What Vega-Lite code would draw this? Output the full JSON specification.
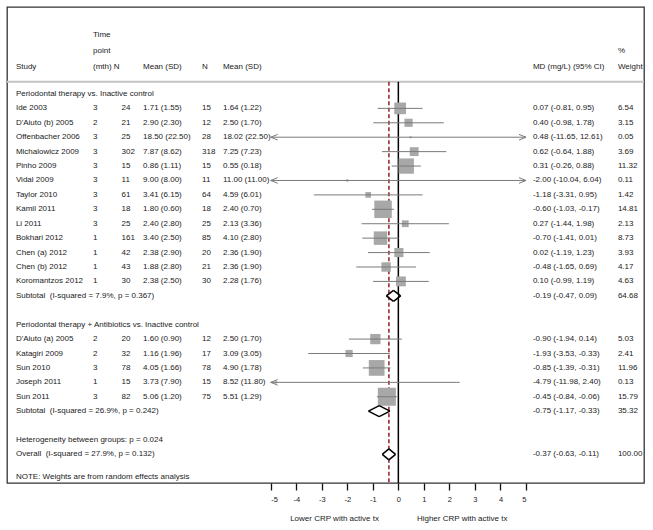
{
  "$schema": "https://vega.github.io/schema/vega-lite/v6.json",
  "width": 637,
  "height": 476,
  "autosize": {"type": "none"},
  "padding": {"left": 7, "top": 7, "right": 9, "bottom": 47},
  "background": "white",
  "config": {
    "view": {"stroke": "#333333", "strokeWidth": 1.3},
    "text": {"font": "Liberation Sans", "fontSize": 8, "color": "#222222"}
  },
  "datasets": {
    "rows": [
      {"kind": "header", "row": -4.09, "mth": "Time"},
      {"kind": "header", "row": -3.0, "mth": "point", "wt": "%"},
      {"kind": "header", "row": -1.9, "study": "Study", "mth": "(mth)", "n1h": "N", "m1": "Mean (SD)", "n2": "N", "m2": "Mean (SD)", "ci": "MD (mg/L) (95% CI)", "wt": "Weight"},
      {"kind": "group", "row": 0, "study": "Periodontal therapy vs. Inactive control"},
      {"kind": "study", "row": 1, "study": "Ide 2003", "mth": 3, "n1": 24, "m1": "1.71 (1.55)", "n2": 15, "m2": "1.64 (1.22)", "md": 0.07, "lo": -0.81, "hi": 0.95, "w": 6.54, "ci": "0.07 (-0.81, 0.95)", "wt": "6.54"},
      {"kind": "study", "row": 2, "study": "D'Aiuto (b) 2005", "mth": 2, "n1": 21, "m1": "2.90 (2.30)", "n2": 12, "m2": "2.50 (1.70)", "md": 0.40, "lo": -0.98, "hi": 1.78, "w": 3.15, "ci": "0.40 (-0.98, 1.78)", "wt": "3.15"},
      {"kind": "study", "row": 3, "study": "Offenbacher 2006", "mth": 3, "n1": 25, "m1": "18.50 (22.50)", "n2": 28, "m2": "18.02 (22.50)", "md": 0.48, "lo": -11.65, "hi": 12.61, "w": 0.05, "ci": "0.48 (-11.65, 12.61)", "wt": "0.05"},
      {"kind": "study", "row": 4, "study": "Michalowicz 2009", "mth": 3, "n1": 302, "m1": "7.87 (8.62)", "n2": 318, "m2": "7.25 (7.23)", "md": 0.62, "lo": -0.64, "hi": 1.88, "w": 3.69, "ci": "0.62 (-0.64, 1.88)", "wt": "3.69"},
      {"kind": "study", "row": 5, "study": "Pinho 2009", "mth": 3, "n1": 15, "m1": "0.86 (1.11)", "n2": 15, "m2": "0.55 (0.18)", "md": 0.31, "lo": -0.26, "hi": 0.88, "w": 11.32, "ci": "0.31 (-0.26, 0.88)", "wt": "11.32"},
      {"kind": "study", "row": 6, "study": "Vidal 2009", "mth": 3, "n1": 11, "m1": "9.00 (8.00)", "n2": 11, "m2": "11.00 (11.00)", "md": -2.00, "lo": -10.04, "hi": 6.04, "w": 0.11, "ci": "-2.00 (-10.04, 6.04)", "wt": "0.11"},
      {"kind": "study", "row": 7, "study": "Taylor 2010", "mth": 3, "n1": 61, "m1": "3.41 (6.15)", "n2": 64, "m2": "4.59 (6.01)", "md": -1.18, "lo": -3.31, "hi": 0.95, "w": 1.42, "ci": "-1.18 (-3.31, 0.95)", "wt": "1.42"},
      {"kind": "study", "row": 8, "study": "Kamil 2011", "mth": 3, "n1": 18, "m1": "1.80 (0.60)", "n2": 18, "m2": "2.40 (0.70)", "md": -0.60, "lo": -1.03, "hi": -0.17, "w": 14.81, "ci": "-0.60 (-1.03, -0.17)", "wt": "14.81"},
      {"kind": "study", "row": 9, "study": "Li 2011", "mth": 3, "n1": 25, "m1": "2.40 (2.80)", "n2": 25, "m2": "2.13 (3.36)", "md": 0.27, "lo": -1.44, "hi": 1.98, "w": 2.13, "ci": "0.27 (-1.44, 1.98)", "wt": "2.13"},
      {"kind": "study", "row": 10, "study": "Bokhari 2012", "mth": 1, "n1": 161, "m1": "3.40 (2.50)", "n2": 85, "m2": "4.10 (2.80)", "md": -0.70, "lo": -1.41, "hi": 0.01, "w": 8.73, "ci": "-0.70 (-1.41, 0.01)", "wt": "8.73"},
      {"kind": "study", "row": 11, "study": "Chen (a) 2012", "mth": 1, "n1": 42, "m1": "2.38 (2.90)", "n2": 20, "m2": "2.36 (1.90)", "md": 0.02, "lo": -1.19, "hi": 1.23, "w": 3.93, "ci": "0.02 (-1.19, 1.23)", "wt": "3.93"},
      {"kind": "study", "row": 12, "study": "Chen (b) 2012", "mth": 1, "n1": 43, "m1": "1.88 (2.80)", "n2": 21, "m2": "2.36 (1.90)", "md": -0.48, "lo": -1.65, "hi": 0.69, "w": 4.17, "ci": "-0.48 (-1.65, 0.69)", "wt": "4.17"},
      {"kind": "study", "row": 13, "study": "Koromantzos 2012", "mth": 1, "n1": 30, "m1": "2.38 (2.50)", "n2": 30, "m2": "2.28 (1.76)", "md": 0.10, "lo": -0.99, "hi": 1.19, "w": 4.63, "ci": "0.10 (-0.99, 1.19)", "wt": "4.63"},
      {"kind": "summary", "row": 14, "study": "Subtotal\u00a0 (I-squared = 7.9%, p = 0.367)", "md": -0.19, "lo": -0.47, "hi": 0.09, "ci": "-0.19 (-0.47, 0.09)", "wt": "64.68"},
      {"kind": "group", "row": 16, "study": "Periodontal therapy + Antibiotics vs. Inactive control"},
      {"kind": "study", "row": 17, "study": "D'Aiuto (a) 2005", "mth": 2, "n1": 20, "m1": "1.60 (0.90)", "n2": 12, "m2": "2.50 (1.70)", "md": -0.90, "lo": -1.94, "hi": 0.14, "w": 5.03, "ci": "-0.90 (-1.94, 0.14)", "wt": "5.03"},
      {"kind": "study", "row": 18, "study": "Katagiri 2009", "mth": 2, "n1": 32, "m1": "1.16 (1.96)", "n2": 17, "m2": "3.09 (3.05)", "md": -1.93, "lo": -3.53, "hi": -0.33, "w": 2.41, "ci": "-1.93 (-3.53, -0.33)", "wt": "2.41"},
      {"kind": "study", "row": 19, "study": "Sun 2010", "mth": 3, "n1": 78, "m1": "4.05 (1.66)", "n2": 78, "m2": "4.90 (1.78)", "md": -0.85, "lo": -1.39, "hi": -0.31, "w": 11.96, "ci": "-0.85 (-1.39, -0.31)", "wt": "11.96"},
      {"kind": "study", "row": 20, "study": "Joseph 2011", "mth": 1, "n1": 15, "m1": "3.73 (7.90)", "n2": 15, "m2": "8.52 (11.80)", "md": -4.79, "lo": -11.98, "hi": 2.40, "w": 0.13, "ci": "-4.79 (-11.98, 2.40)", "wt": "0.13"},
      {"kind": "study", "row": 21, "study": "Sun 2011", "mth": 3, "n1": 82, "m1": "5.06 (1.20)", "n2": 75, "m2": "5.51 (1.29)", "md": -0.45, "lo": -0.84, "hi": -0.06, "w": 15.79, "ci": "-0.45 (-0.84, -0.06)", "wt": "15.79"},
      {"kind": "summary", "row": 22, "study": "Subtotal\u00a0 (I-squared = 26.9%, p = 0.242)", "md": -0.75, "lo": -1.17, "hi": -0.33, "ci": "-0.75 (-1.17, -0.33)", "wt": "35.32"},
      {"kind": "note", "row": 24, "study": "Heterogeneity between groups: p = 0.024"},
      {"kind": "overall", "row": 25, "study": "Overall\u00a0 (I-squared = 27.9%, p = 0.132)", "md": -0.37, "lo": -0.63, "hi": -0.11, "ci": "-0.37 (-0.63, -0.11)", "wt": "100.00"},
      {"kind": "note", "row": 26.54, "study": "NOTE: Weights are from random effects analysis"}
    ],
    "sides": [
      {"label": "Lower CRP with active tx", "pos": -2.5},
      {"label": "Higher CRP with active tx", "pos": 2.5}
    ]
  },
  "layer": [
    {
      "layer": [
        {
          "data": {"name": "rows"},
          "transform": [{"filter": "datum.study != null"}],
          "mark": {"type": "text", "align": "left", "baseline": "middle", "color": "#222222"},
          "encoding": {
            "x": {"datum": -14.98, "type": "quantitative", "scale": {"domain": [-5, 5], "range": [263.7, 519], "nice": false, "zero": false}, "axis": null},
            "y": {"field": "row", "type": "quantitative", "scale": {"domain": [-6.03, 26.98], "reverse": true, "nice": false, "zero": false}, "axis": null},
            "text": {"field": "study", "type": "nominal"}
          }
        },
        {
          "data": {"name": "rows"},
          "transform": [{"filter": "datum.mth != null"}],
          "mark": {"type": "text", "align": "left", "baseline": "middle", "color": "#222222"},
          "encoding": {
            "x": {"datum": -11.96, "type": "quantitative", "scale": {"domain": [-5, 5], "range": [263.7, 519], "nice": false, "zero": false}, "axis": null},
            "y": {"field": "row", "type": "quantitative", "scale": {"domain": [-6.03, 26.98], "reverse": true, "nice": false, "zero": false}, "axis": null},
            "text": {"field": "mth", "type": "nominal"}
          }
        },
        {
          "data": {"name": "rows"},
          "transform": [{"filter": "datum.n1h != null"}],
          "mark": {"type": "text", "align": "left", "baseline": "middle", "color": "#222222"},
          "encoding": {
            "x": {"datum": -11.15, "type": "quantitative", "scale": {"domain": [-5, 5], "range": [263.7, 519], "nice": false, "zero": false}, "axis": null},
            "y": {"field": "row", "type": "quantitative", "scale": {"domain": [-6.03, 26.98], "reverse": true, "nice": false, "zero": false}, "axis": null},
            "text": {"field": "n1h", "type": "nominal"}
          }
        },
        {
          "data": {"name": "rows"},
          "transform": [{"filter": "datum.n1 != null"}],
          "mark": {"type": "text", "align": "left", "baseline": "middle", "color": "#222222"},
          "encoding": {
            "x": {"datum": -10.84, "type": "quantitative", "scale": {"domain": [-5, 5], "range": [263.7, 519], "nice": false, "zero": false}, "axis": null},
            "y": {"field": "row", "type": "quantitative", "scale": {"domain": [-6.03, 26.98], "reverse": true, "nice": false, "zero": false}, "axis": null},
            "text": {"field": "n1", "type": "nominal"}
          }
        },
        {
          "data": {"name": "rows"},
          "transform": [{"filter": "datum.m1 != null"}],
          "mark": {"type": "text", "align": "left", "baseline": "middle", "color": "#222222"},
          "encoding": {
            "x": {"datum": -10.0, "type": "quantitative", "scale": {"domain": [-5, 5], "range": [263.7, 519], "nice": false, "zero": false}, "axis": null},
            "y": {"field": "row", "type": "quantitative", "scale": {"domain": [-6.03, 26.98], "reverse": true, "nice": false, "zero": false}, "axis": null},
            "text": {"field": "m1", "type": "nominal"}
          }
        },
        {
          "data": {"name": "rows"},
          "transform": [{"filter": "datum.n2 != null"}],
          "mark": {"type": "text", "align": "left", "baseline": "middle", "color": "#222222"},
          "encoding": {
            "x": {"datum": -7.69, "type": "quantitative", "scale": {"domain": [-5, 5], "range": [263.7, 519], "nice": false, "zero": false}, "axis": null},
            "y": {"field": "row", "type": "quantitative", "scale": {"domain": [-6.03, 26.98], "reverse": true, "nice": false, "zero": false}, "axis": null},
            "text": {"field": "n2", "type": "nominal"}
          }
        },
        {
          "data": {"name": "rows"},
          "transform": [{"filter": "datum.m2 != null"}],
          "mark": {"type": "text", "align": "left", "baseline": "middle", "color": "#222222"},
          "encoding": {
            "x": {"datum": -6.87, "type": "quantitative", "scale": {"domain": [-5, 5], "range": [263.7, 519], "nice": false, "zero": false}, "axis": null},
            "y": {"field": "row", "type": "quantitative", "scale": {"domain": [-6.03, 26.98], "reverse": true, "nice": false, "zero": false}, "axis": null},
            "text": {"field": "m2", "type": "nominal"}
          }
        },
        {
          "data": {"name": "rows"},
          "transform": [{"filter": "datum.ci != null"}],
          "mark": {"type": "text", "align": "left", "baseline": "middle", "color": "#222222"},
          "encoding": {
            "x": {"datum": 5.27, "type": "quantitative", "scale": {"domain": [-5, 5], "range": [263.7, 519], "nice": false, "zero": false}, "axis": null},
            "y": {"field": "row", "type": "quantitative", "scale": {"domain": [-6.03, 26.98], "reverse": true, "nice": false, "zero": false}, "axis": null},
            "text": {"field": "ci", "type": "nominal"}
          }
        },
        {
          "data": {"name": "rows"},
          "transform": [{"filter": "datum.wt != null"}],
          "mark": {"type": "text", "align": "left", "baseline": "middle", "color": "#222222"},
          "encoding": {
            "x": {"datum": 8.6, "type": "quantitative", "scale": {"domain": [-5, 5], "range": [263.7, 519], "nice": false, "zero": false}, "axis": null},
            "y": {"field": "row", "type": "quantitative", "scale": {"domain": [-6.03, 26.98], "reverse": true, "nice": false, "zero": false}, "axis": null},
            "text": {"field": "wt", "type": "nominal"}
          }
        },
        {
          "data": {"name": "rows"},
          "transform": [{"filter": "datum.kind === 'overall'"}],
          "mark": {"type": "rule", "color": "#c4c4c4", "strokeWidth": 2},
          "encoding": {
            "y": {"datum": -0.85, "type": "quantitative", "axis": null}
          }
        }
      ]
    },
    {
      "layer": [
        {
          "data": {"name": "rows"},
          "transform": [{"filter": "datum.kind === 'overall'"}],
          "mark": {"type": "rule", "color": "#9b2c33", "strokeWidth": 1.6, "strokeDash": [4, 2.5]},
          "encoding": {
            "x": {"field": "md", "type": "quantitative", "scale": {"domain": [-5, 5], "range": [263.7, 519], "nice": false, "zero": false, "clamp": true},
                  "axis": {"values": [-5, -4, -3, -2, -1, 0, 1, 2, 3, 4, 5], "orient": "bottom", "domain": false, "grid": false, "ticks": true, "tickSize": 7, "tickColor": "#111111", "tickWidth": 1.3, "labelFont": "Liberation Sans", "labelFontSize": 7.5, "labelColor": "#222222", "labelPadding": 5, "labelExpr": "'' + datum.value", "title": null}},
            "y": {"datum": -0.85, "type": "quantitative", "axis": null},
            "y2": {"datum": 26.98}
          }
        },
        {
          "data": {"name": "rows"},
          "transform": [{"filter": "datum.kind === 'overall'"}],
          "mark": {"type": "rule", "color": "#000000", "strokeWidth": 1.5},
          "encoding": {
            "x": {"datum": 0, "type": "quantitative"},
            "y": {"datum": -0.85, "type": "quantitative", "axis": null},
            "y2": {"datum": 26.98}
          }
        },
        {
          "data": {"name": "rows"},
          "transform": [{"filter": "datum.kind === 'study'"}],
          "mark": {"type": "point", "shape": "square", "filled": true, "color": "#a8a8a8", "opacity": 1},
          "encoding": {
            "x": {"field": "md", "type": "quantitative"},
            "y": {"field": "row", "type": "quantitative", "scale": {"domain": [-6.03, 26.98], "reverse": true, "nice": false, "zero": false}, "axis": null},
            "size": {"field": "w", "type": "quantitative", "scale": {"type": "linear", "domain": [0, 16], "range": [3, 330], "zero": false}, "legend": null}
          }
        },
        {
          "data": {"name": "rows"},
          "transform": [{"filter": "datum.kind === 'study'"}],
          "mark": {"type": "rule", "color": "#7a7a7a", "strokeWidth": 1},
          "encoding": {
            "x": {"field": "lo", "type": "quantitative"},
            "x2": {"field": "hi"},
            "y": {"field": "row", "type": "quantitative", "axis": null}
          }
        },
        {
          "data": {"name": "rows"},
          "transform": [{"filter": "datum.kind === 'study' && datum.lo < -5"}],
          "mark": {"type": "point", "shape": "M2,-0.8L0,0L2,0.8", "filled": false, "color": "#7a7a7a", "strokeWidth": 1, "size": 49, "opacity": 1},
          "encoding": {
            "x": {"field": "lo", "type": "quantitative"},
            "y": {"field": "row", "type": "quantitative", "axis": null}
          }
        },
        {
          "data": {"name": "rows"},
          "transform": [{"filter": "datum.kind === 'study' && datum.hi > 5"}],
          "mark": {"type": "point", "shape": "M-2,-0.8L0,0L-2,0.8", "filled": false, "color": "#7a7a7a", "strokeWidth": 1, "size": 49, "opacity": 1},
          "encoding": {
            "x": {"field": "hi", "type": "quantitative"},
            "y": {"field": "row", "type": "quantitative", "axis": null}
          }
        },
        {
          "data": {"name": "rows"},
          "transform": [{"filter": "datum.kind === 'summary' || datum.kind === 'overall'"}],
          "mark": {"type": "point", "shape": "diamond", "filled": true, "color": "#ffffff", "size": 100, "opacity": 1},
          "encoding": {
            "x": {"field": "md", "type": "quantitative"},
            "y": {"field": "row", "type": "quantitative", "axis": null}
          }
        },
        {
          "data": {"name": "rows"},
          "transform": [{"filter": "datum.kind === 'summary' || datum.kind === 'overall'"}],
          "mark": {"type": "rule", "color": "#000000", "strokeWidth": 1.5, "y2Offset": -5.5},
          "encoding": {
            "x": {"field": "lo", "type": "quantitative"},
            "x2": {"field": "md"},
            "y": {"field": "row", "type": "quantitative", "axis": null},
            "y2": {"field": "row"}
          }
        },
        {
          "data": {"name": "rows"},
          "transform": [{"filter": "datum.kind === 'summary' || datum.kind === 'overall'"}],
          "mark": {"type": "rule", "color": "#000000", "strokeWidth": 1.5, "y2Offset": 5.5},
          "encoding": {
            "x": {"field": "lo", "type": "quantitative"},
            "x2": {"field": "md"},
            "y": {"field": "row", "type": "quantitative", "axis": null},
            "y2": {"field": "row"}
          }
        },
        {
          "data": {"name": "rows"},
          "transform": [{"filter": "datum.kind === 'summary' || datum.kind === 'overall'"}],
          "mark": {"type": "rule", "color": "#000000", "strokeWidth": 1.5, "y2Offset": -5.5},
          "encoding": {
            "x": {"field": "hi", "type": "quantitative"},
            "x2": {"field": "md"},
            "y": {"field": "row", "type": "quantitative", "axis": null},
            "y2": {"field": "row"}
          }
        },
        {
          "data": {"name": "rows"},
          "transform": [{"filter": "datum.kind === 'summary' || datum.kind === 'overall'"}],
          "mark": {"type": "rule", "color": "#000000", "strokeWidth": 1.5, "y2Offset": 5.5},
          "encoding": {
            "x": {"field": "hi", "type": "quantitative"},
            "x2": {"field": "md"},
            "y": {"field": "row", "type": "quantitative", "axis": null},
            "y2": {"field": "row"}
          }
        },
        {
          "data": {"name": "sides"},
          "mark": {"type": "text", "align": "center", "baseline": "middle", "fontSize": 8, "color": "#222222"},
          "encoding": {
            "x": {"field": "pos", "type": "quantitative"},
            "y": {"datum": 29.47, "type": "quantitative", "axis": null},
            "text": {"field": "label", "type": "nominal"}
          }
        }
      ]
    }
  ],
  "resolve": {"scale": {"x": "independent"}, "axis": {"x": "independent"}}
}
